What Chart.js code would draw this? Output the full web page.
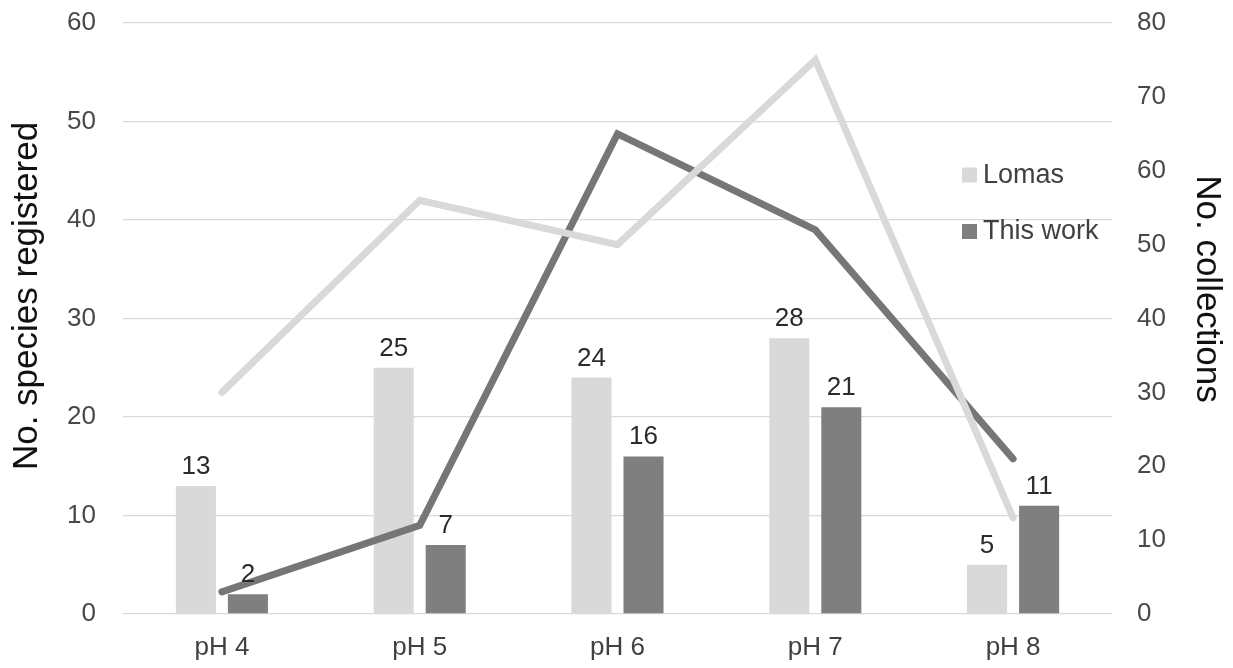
<!DOCTYPE html>
<html>
<head>
<meta charset="utf-8">
<script src="https://cdn.jsdelivr.net/npm/chart.js@4/dist/chart.umd.min.js"></script>
<style>
  html, body { margin: 0; padding: 0; background: #ffffff; }
  #wrap { width: 1233px; height: 668px; position: relative; }
</style>
</head>
<body>
<div id="wrap"><canvas id="chart"></canvas></div>
<script>
// Categories and series
const categories = ['pH 4', 'pH 5', 'pH 6', 'pH 7', 'pH 8'];
const seriesNames = ['Lomas', 'This work'];
const lomasSpecies = [13, 25, 24, 28, 5];
const thisWorkSpecies = [2, 7, 16, 21, 11];
const lomasCollections = [30, 56, 50, 75, 13];
const thisWorkCollections = [3, 12, 65, 52, 21];
const speciesTicks = [0, 10, 20, 30, 40, 50, 60];
const collectionTicks = [0, 10, 20, 30, 40, 50, 60, 70, 80];
const leftTitle = 'No. species registered';
const rightTitle = 'No. collections';

const FONT = '"Liberation Sans", Arial, Helvetica, sans-serif';
const LIGHT = '#d9d9d9';
const DARK = '#7f7f7f';
const DARK_LINE = '#767676';

// Value labels above each bar
const barValueLabels = {
  id: 'barValueLabels',
  afterDatasetsDraw(chart) {
    const ctx = chart.ctx;
    ctx.save();
    ctx.font = '26px ' + FONT;
    ctx.fillStyle = '#2b2b2b';
    ctx.textAlign = 'center';
    ctx.textBaseline = 'alphabetic';
    chart.data.datasets.forEach((ds, di) => {
      if (ds.type !== 'bar') return;
      const meta = chart.getDatasetMeta(di);
      meta.data.forEach((bar, i) => {
        ctx.fillText(String(ds.data[i]), bar.x, bar.y - 12);
      });
    });
    ctx.restore();
  }
};

// Axis titles and the inset legend
const sideDecor = {
  id: 'sideDecor',
  afterDraw(chart) {
    const ctx = chart.ctx;
    ctx.save();
    ctx.fillStyle = '#111111';
    ctx.font = '35px ' + FONT;
    ctx.textAlign = 'center';
    ctx.textBaseline = 'alphabetic';

    ctx.save();
    ctx.translate(37, 296);
    ctx.rotate(-Math.PI / 2);
    ctx.fillText(leftTitle, 0, 0);
    ctx.restore();

    ctx.save();
    ctx.translate(1197, 289);
    ctx.rotate(Math.PI / 2);
    ctx.fillText(rightTitle, 0, 0);
    ctx.restore();

    // legend
    const items = [
      { label: seriesNames[0], color: LIGHT, y: 174.5 },
      { label: seriesNames[1], color: DARK, y: 231 }
    ];
    ctx.font = '27px ' + FONT;
    ctx.textAlign = 'left';
    ctx.textBaseline = 'middle';
    items.forEach(it => {
      ctx.fillStyle = it.color;
      ctx.fillRect(962, it.y - 7, 15, 15);
      ctx.fillStyle = '#404040';
      ctx.fillText(it.label, 983, it.y + 1);
    });
    ctx.restore();
  }
};

function pinWidth(w) {
  return function (scale) {
    scale.width = w;
    scale.paddingTop = 0;
    scale.paddingBottom = 0;
  };
}

new Chart(document.getElementById('chart'), {
  type: 'bar',
  data: {
    labels: categories,
    datasets: [
      {
        type: 'line', label: seriesNames[0] + ' collections', data: lomasCollections,
        yAxisID: 'y1', borderColor: LIGHT, borderWidth: 7,
        borderCapStyle: 'round', borderJoinStyle: 'miter',
        pointRadius: 0, fill: false, tension: 0, order: 0
      },
      {
        type: 'line', label: seriesNames[1] + ' collections', data: thisWorkCollections,
        yAxisID: 'y1', borderColor: DARK_LINE, borderWidth: 7,
        borderCapStyle: 'round', borderJoinStyle: 'miter',
        pointRadius: 0, fill: false, tension: 0, order: 1
      },
      {
        type: 'bar', label: seriesNames[0], data: lomasSpecies, yAxisID: 'y',
        backgroundColor: LIGHT, borderWidth: 0,
        categoryPercentage: 0.526, barPercentage: 0.77, order: 2
      },
      {
        type: 'bar', label: seriesNames[1], data: thisWorkSpecies, yAxisID: 'y',
        backgroundColor: DARK, borderWidth: 0,
        categoryPercentage: 0.526, barPercentage: 0.77, order: 3
      }
    ]
  },
  options: {
    responsive: true,
    maintainAspectRatio: false,
    animation: false,
    devicePixelRatio: 1,
    layout: { padding: { top: 23, left: 0, right: 0, bottom: 0 } },
    plugins: {
      legend: { display: false },
      tooltip: { enabled: false },
      title: { display: false }
    },
    scales: {
      x: {
        type: 'category',
        offset: true,
        grid: { display: false, drawTicks: false },
        border: { display: false },
        ticks: {
          color: '#404040', padding: 18,
          font: { family: FONT, size: 26 }, maxRotation: 0
        },
        afterFit(scale) {
          scale.height = 54;
          scale.paddingLeft = 0;
          scale.paddingRight = 0;
        }
      },
      y: {
        position: 'left',
        min: speciesTicks[0],
        max: speciesTicks[speciesTicks.length - 1],
        grid: { color: '#d9d9d9', lineWidth: 1.3, drawTicks: false },
        border: { display: false },
        ticks: {
          stepSize: speciesTicks[1] - speciesTicks[0],
          color: '#484848', padding: 27,
          font: { family: FONT, size: 26 }
        },
        afterFit: pinWidth(123)
      },
      y1: {
        position: 'right',
        min: collectionTicks[0],
        max: collectionTicks[collectionTicks.length - 1],
        grid: { display: false, drawTicks: false },
        border: { display: false },
        ticks: {
          stepSize: collectionTicks[1] - collectionTicks[0],
          color: '#484848', padding: 25,
          font: { family: FONT, size: 26 }
        },
        afterFit: pinWidth(121)
      }
    }
  },
  plugins: [barValueLabels, sideDecor]
});
</script>
</body>
</html>
